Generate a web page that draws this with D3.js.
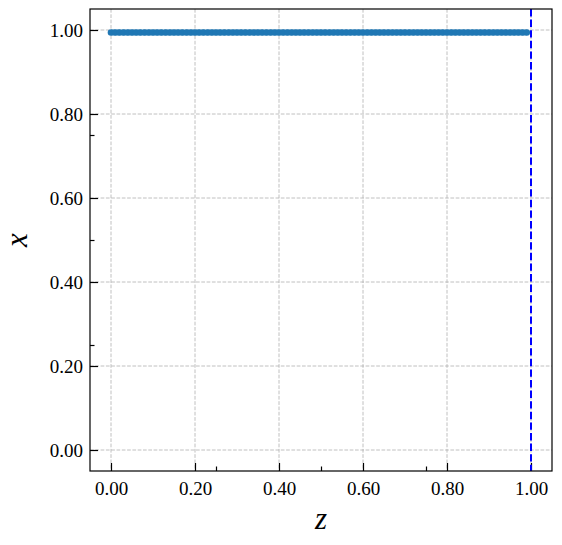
<!DOCTYPE html>
<html>
<head>
<meta charset="utf-8">
<script src="https://cdn.jsdelivr.net/npm/d3@7"></script>
<style>
  body { margin: 0; background: #fff; }
  svg { display: block; }
</style>
</head>
<body>
<svg id="svg" width="562" height="545"></svg>
<script>
// series: z along the bottom, x up the side
var zValues = [
    0.00, 0.01, 0.02, 0.03, 0.04, 0.05, 0.06, 0.07, 0.08, 0.09,
    0.10, 0.11, 0.12, 0.13, 0.14, 0.15, 0.16, 0.17, 0.18, 0.19,
    0.20, 0.21, 0.22, 0.23, 0.24, 0.25, 0.26, 0.27, 0.28, 0.29,
    0.30, 0.31, 0.32, 0.33, 0.34, 0.35, 0.36, 0.37, 0.38, 0.39,
    0.40, 0.41, 0.42, 0.43, 0.44, 0.45, 0.46, 0.47, 0.48, 0.49,
    0.50, 0.51, 0.52, 0.53, 0.54, 0.55, 0.56, 0.57, 0.58, 0.59,
    0.60, 0.61, 0.62, 0.63, 0.64, 0.65, 0.66, 0.67, 0.68, 0.69,
    0.70, 0.71, 0.72, 0.73, 0.74, 0.75, 0.76, 0.77, 0.78, 0.79,
    0.80, 0.81, 0.82, 0.83, 0.84, 0.85, 0.86, 0.87, 0.88, 0.89,
    0.90, 0.91, 0.92, 0.93, 0.94, 0.95, 0.96, 0.97, 0.98, 0.99
];
var xValues = [
    0.994, 0.994, 0.994, 0.994, 0.994, 0.994, 0.994, 0.994, 0.994, 0.994,
    0.994, 0.994, 0.994, 0.994, 0.994, 0.994, 0.994, 0.994, 0.994, 0.994,
    0.994, 0.994, 0.994, 0.994, 0.994, 0.994, 0.994, 0.994, 0.994, 0.994,
    0.994, 0.994, 0.994, 0.994, 0.994, 0.994, 0.994, 0.994, 0.994, 0.994,
    0.994, 0.994, 0.994, 0.994, 0.994, 0.994, 0.994, 0.994, 0.994, 0.994,
    0.994, 0.994, 0.994, 0.994, 0.994, 0.994, 0.994, 0.994, 0.994, 0.994,
    0.994, 0.994, 0.994, 0.994, 0.994, 0.994, 0.994, 0.994, 0.994, 0.994,
    0.994, 0.994, 0.994, 0.994, 0.994, 0.994, 0.994, 0.994, 0.994, 0.994,
    0.994, 0.994, 0.994, 0.994, 0.994, 0.994, 0.994, 0.994, 0.994, 0.994,
    0.994, 0.994, 0.994, 0.994, 0.994, 0.994, 0.994, 0.994, 0.994, 0.994
];
var majorTicks = [0.0, 0.2, 0.4, 0.6, 0.8, 1.0];
var minorTicks = [0.25, 0.5, 0.75];
var markerZ = 1.0;   // dashed vertical line

var L = 90, R = 552, T = 9, B = 471;
var FONT = "'Liberation Serif', 'Times New Roman', Times, serif";

var svg = d3.select("#svg");

var xs = d3.scaleLinear().domain([-0.05, 1.05]).range([L, R]);
var ys = d3.scaleLinear().domain([-0.05, 1.05]).range([B, T]);

//grid first, under everything
var grid = svg.append("g");
grid.selectAll(".gx").data(majorTicks).enter().append("line")
        .attr("x1", d => xs(d)).attr("x2", d => xs(d))
        .attr("y1", T).attr("y2", B)
        .attr("stroke", "#b0b0b0").attr("stroke-width", 0.8)
        .attr("stroke-dasharray", "3.7,1.6");
grid.selectAll(".gy").data(majorTicks).enter().append("line")
        .attr("y1", d => ys(d)).attr("y2", d => ys(d))
        .attr("x1", L).attr("x2", R)
        .attr("stroke", "#b0b0b0").attr("stroke-width", 0.8)
        .attr("stroke-dasharray", "3.7,1.6");

// axes, ticks pointing inward
function styleAxis(g) {
    g.select(".domain").remove();
    g.selectAll("line").attr("stroke", "#000").attr("stroke-width", 1.2);
    g.selectAll("text").attr("font-family", FONT).attr("font-size", "19px").attr("fill", "#000");
}

var xAxis = svg.append("g").attr("transform", "translate(0," + B + ")")
        .call(d3.axisBottom(xs).tickValues(majorTicks).tickFormat(d3.format(".2f"))
            .tickSizeInner(-8).tickSizeOuter(0).tickPadding(11));
styleAxis(xAxis);
var xMinor = svg.append("g").attr("transform", "translate(0," + B + ")")
        .call(d3.axisBottom(xs).tickValues(minorTicks).tickFormat("")
            .tickSizeInner(-4.5).tickSizeOuter(0));
styleAxis(xMinor);

var yAxis = svg.append("g").attr("transform", "translate(" + L + ",0)")
        .call(d3.axisLeft(ys).tickValues(majorTicks).tickFormat(d3.format(".2f"))
            .tickSizeInner(-8).tickSizeOuter(0).tickPadding(7));
styleAxis(yAxis);
var yMinor = svg.append("g").attr("transform", "translate(" + L + ",0)")
        .call(d3.axisLeft(ys).tickValues(minorTicks).tickFormat("")
            .tickSizeInner(-4.5).tickSizeOuter(0));
styleAxis(yMinor);

// the series
var pts = zValues.map((z, i) => [z, xValues[i]]);
svg.append("path")
        .datum(pts)
        .attr("d", d3.line().x(d => xs(d[0])).y(d => ys(d[1])))
        .attr("fill", "none")
        .attr("stroke", "#1f77b4")
        .attr("stroke-width", 5.5);
svg.append("g").selectAll("circle").data(pts).enter().append("circle")
        .attr("cx", d => xs(d[0]))
        .attr("cy", d => ys(d[1]))
        .attr("r", 3.3)
        .attr("fill", "#1f77b4");

// dashed vertical at z = 1
svg.append("line")
        .attr("x1", xs(markerZ)).attr("x2", xs(markerZ))
        .attr("y1", T).attr("y2", B)
        .attr("stroke", "#0000ff").attr("stroke-width", 2)
        .attr("stroke-dasharray", "7.4,3.2");

// frame
svg.append("rect")
        .attr("x", L).attr("y", T)
        .attr("width", R - L).attr("height", B - T)
        .attr("fill", "none").attr("stroke", "#000").attr("stroke-width", 1.2);

// axis labels
svg.append("text")
        .attr("x", (L + R) / 2).attr("y", 529)
        .attr("text-anchor", "middle")
        .attr("font-family", FONT).attr("font-style", "italic")
        .attr("font-size", "31px")
        .text("z");
svg.append("text")
        .attr("transform", "translate(27," + ((T + B) / 2) + ") rotate(-90)")
        .attr("text-anchor", "middle")
        .attr("font-family", FONT).attr("font-style", "italic")
        .attr("font-size", "31px")
        .text("x");
</script>
</body>
</html>
